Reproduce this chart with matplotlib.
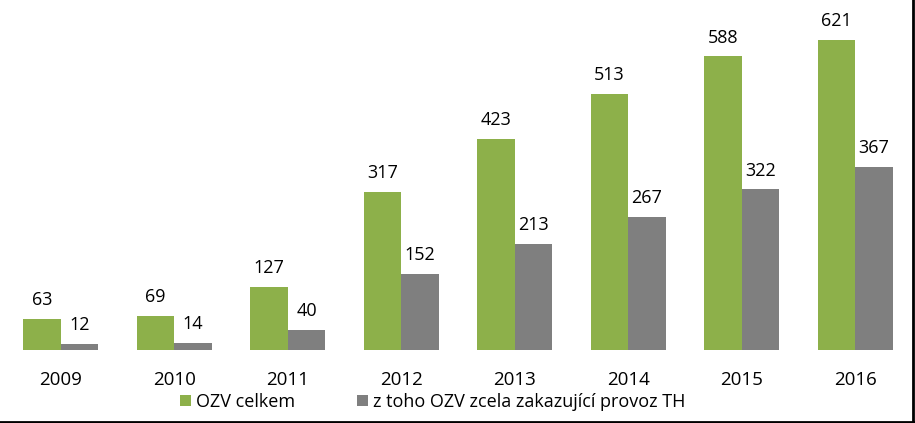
import matplotlib.pyplot as plt
import numpy as np

# Data
roky = ["2009", "2010", "2011", "2012", "2013", "2014", "2015", "2016"]
ozv_celkem = [63, 69, 127, 317, 423, 513, 588, 621]
ozv_zakaz = [12, 14, 40, 152, 213, 267, 322, 367]

green = "#8db04a"
gray = "#7f7f7f"

plt.rcParams['font.family'] = ['Open Sans', 'DejaVu Sans']

fig = plt.figure(figsize=(9.15, 4.23), dpi=100)
ax = fig.add_axes([4 / 915, 73 / 423, 908 / 915, 350 / 423])

x = np.arange(len(roky))
w = 0.33
b1 = ax.bar(x - w / 2, ozv_celkem, w, color=green, label="OZV celkem")
b2 = ax.bar(x + w / 2, ozv_zakaz, w, color=gray, label="z toho OZV zcela zakazující provoz TH")

for rect, v in zip(b1, ozv_celkem):
    ax.annotate(str(v), (rect.get_x() + rect.get_width() / 2, v), xytext=(0, 7),
                textcoords="offset points", ha="center", va="bottom", fontsize=13)
for rect, v in zip(b2, ozv_zakaz):
    ax.annotate(str(v), (rect.get_x() + rect.get_width() / 2, v), xytext=(0, 7),
                textcoords="offset points", ha="center", va="bottom", fontsize=13)

ax.set_xlim(-0.5, 7.5)
ax.set_ylim(0, 701)
ax.set_xticks(x)
ax.set_xticklabels(roky, fontsize=13.5)
ax.tick_params(axis="x", length=0, pad=15)
ax.set_yticks([])
for s in ax.spines.values():
    s.set_visible(False)

fig.legend(handles=[b1, b2], loc="center", bbox_to_anchor=(0.473, 21 / 423),
           ncol=2, frameon=False, fontsize=13, handlelength=0.6, handleheight=0.6,
           handletextpad=0.3, columnspacing=3.4)

# border lines right and bottom
fig.add_artist(plt.Line2D([0, 1], [1.5 / 423, 1.5 / 423], color="black", lw=2))
fig.add_artist(plt.Line2D([912.5 / 915, 912.5 / 915], [0, 1], color="black", lw=2))

fig.savefig("out.png", dpi=100)
